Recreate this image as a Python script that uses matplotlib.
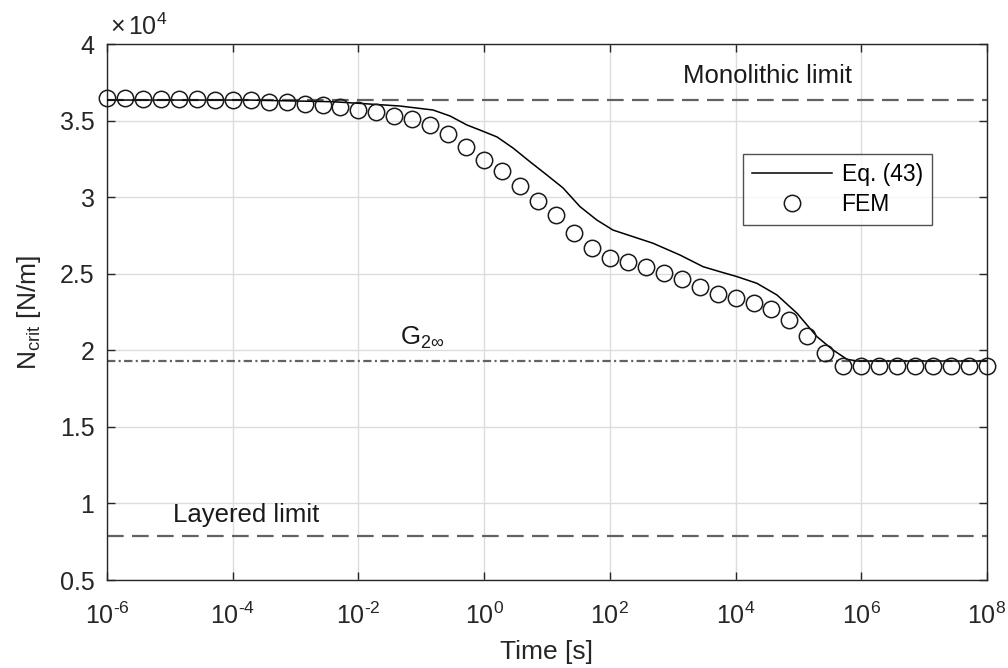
import numpy as np
import matplotlib
matplotlib.use("Agg")
import matplotlib.pyplot as plt
from matplotlib.ticker import FixedLocator, FuncFormatter, NullLocator

plt.rcParams['font.family'] = ['Liberation Sans', 'DejaVu Sans']
plt.rcParams['mathtext.fontset'] = 'custom'
plt.rcParams['mathtext.rm'] = 'Liberation Sans'
plt.rcParams['mathtext.it'] = 'Liberation Sans:italic'
plt.rcParams['mathtext.default'] = 'regular'
plt.rcParams['lines.scale_dashes'] = False

# ---------------- data ----------------
# FEM: 50 log-spaced times from 1e-6 to 1e8 s
fem_logt_start, fem_logt_end, fem_n = -6, 8, 50
fem_N = [36455, 36455, 36390, 36390, 36390, 36390, 36340, 36340, 36340, 36230,
         36230, 36080, 36020, 35870, 35690, 35580, 35300, 35100, 34710, 34120,
         33255, 32430, 31710, 30760, 29750, 28835, 27660, 26660, 26050, 25750,
         25420, 25030, 24640, 24150, 23660, 23395, 23070, 22680, 21980, 20930,
         19840, 18990, 18970, 18970, 18970, 18970, 18970, 18970, 18970, 18970]

# Eq. (43) curve: log10(time) and N_crit
eq_logt = [-6.0, -3.725, -2.405, -2.007, -1.339, -0.814, -0.543, -0.273, -0.066,
           0.205, 0.459, 0.730, 1.000, 1.255, 1.525, 1.795, 2.050, 2.686, 3.116,
           3.482, 3.752, 4.023, 4.341, 4.659, 4.977, 5.295, 5.550, 5.773, 5.932, 8.0]
eq_N = [36340, 36340, 36230, 36130, 35950, 35690, 35300, 34710, 34380, 33930,
        33210, 32310, 31440, 30600, 29380, 28500, 27850, 26990, 26220, 25460,
        25130, 24810, 24370, 23610, 22420, 20890, 20020, 19410, 19300, 19300]

monolithic_N = 36340
layered_N = 7870
g2inf_N = 19300

x_ticks = [1e-6, 1e-4, 1e-2, 1e0, 1e2, 1e4, 1e6, 1e8]
y_ticks = [5000, 10000, 15000, 20000, 25000, 30000, 35000, 40000]

# ---------------- plot ----------------
fig = plt.figure(figsize=(10.08, 6.68), dpi=100)
ax = fig.add_axes([107/1008, 1-580/668, 880/1008, 536/668])

fem_t = np.logspace(fem_logt_start, fem_logt_end, fem_n)
eq_t = 10.0 ** np.array(eq_logt)

gray = '#626262'
ax.axhline(monolithic_N, color=gray, lw=1.6, dashes=(12.0, 6.0), zorder=2)
ax.axhline(layered_N, color=gray, lw=1.6, dashes=(12.0, 6.0), zorder=2)
ax.axhline(g2inf_N, color=gray, lw=1.6, dashes=(6.0, 2.4, 1.5, 2.4), zorder=2)

ln, = ax.plot(eq_t, eq_N, color='black', lw=1.1, zorder=3, label='Eq. (43)')
mk, = ax.plot(fem_t, fem_N, linestyle='none', marker='o', markersize=11.8,
              markerfacecolor='none', markeredgecolor='#1a1a1a', markeredgewidth=1.1,
              zorder=4, label='FEM', clip_on=False)

ax.set_xscale('log')
ax.set_xlim(1e-6, 1e8)
ax.set_ylim(5000, 40000)
ax.xaxis.set_major_locator(FixedLocator(x_ticks))
ax.xaxis.set_minor_locator(NullLocator())
ax.yaxis.set_major_locator(FixedLocator(y_ticks))


def xfmt(v, p):
    e = int(round(np.log10(v)))
    if e < 0:
        return r'$10^{\text{-}%d}$' % (-e)
    return r'$10^{%d}$' % e


ax.xaxis.set_major_formatter(FuncFormatter(xfmt))
ax.yaxis.set_major_formatter(FuncFormatter(lambda v, p: '%g' % (v / 1e4)))

ax.grid(True, color='#dcdcdc', lw=1.0)
ax.set_axisbelow(True)
for s in ax.spines.values():
    s.set_color('#262626')
    s.set_linewidth(1.0)
ax.tick_params(axis='both', which='major', direction='in', length=6, width=1.0,
               color='#262626', labelsize=18, labelcolor='#262626',
               top=True, right=True)
ax.tick_params(axis='x', pad=16)
ax.tick_params(axis='y', pad=9)

ax.set_xlabel('Time [s]', fontsize=19, color='#262626', labelpad=8)
ax.set_ylabel(r'N$_{crit}$ [N/m]', fontsize=19, color='#262626', labelpad=12)

ax.text(0.003, 1.008, r'$\times\,10^{4}$', transform=ax.transAxes, fontsize=18,
        color='#262626', ha='left', va='bottom')

ax.text(10**3.16, 37450, 'Monolithic limit', fontsize=18.5, color='#1a1a1a',
        ha='left', va='baseline')
ax.text(10**-4.95, 8810, 'Layered limit', fontsize=18.5, color='#1a1a1a',
        ha='left', va='baseline')
ax.text(10**-1.34, 20350, r'G$_{2\infty}$', fontsize=18.5, color='#1a1a1a',
        ha='left', va='baseline')

leg = ax.legend(handles=[ln, mk], loc='upper left',
                bbox_to_anchor=(743/1008, 1-154/668), bbox_transform=fig.transFigure,
                fontsize=16.5, frameon=True, fancybox=False, edgecolor='#262626',
                handlelength=3.5, handletextpad=0.4, borderpad=0.4,
                labelspacing=0.3, borderaxespad=0)
leg.get_frame().set_linewidth(1.0)

fig.savefig('out.png', dpi=100)
